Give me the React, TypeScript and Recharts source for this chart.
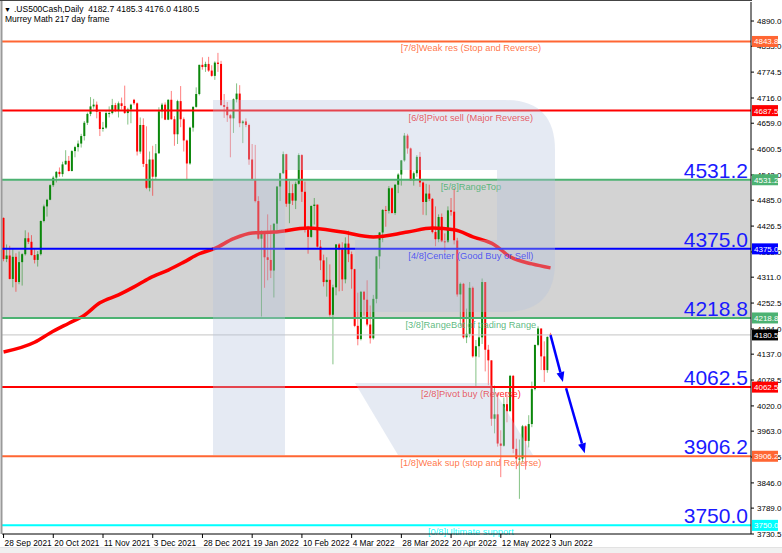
import React from 'react';
import { ComposedChart, Bar, Line, XAxis, YAxis, ReferenceLine, ReferenceArea } from 'recharts';

// date labels, one every 16 bars
const dateLabels = ['28 Sep 2021', '20 Oct 2021', '11 Nov 2021', '3 Dec 2021', '28 Dec 2021', '19 Jan 2022', '10 Feb 2022', '4 Mar 2022', '28 Mar 2022', '20 Apr 2022', '12 May 2022', '3 Jun 2022'];
const labelEvery = 16;
const totalSlots = 241; // bars plus the empty shift on the right

const opens = [4445, 4352, 4360, 4307, 4357, 4300, 4345, 4363, 4399, 4391, 4361, 4350, 4363, 4438, 4471, 4486, 4519, 4536, 4549, 4544, 4566, 4574, 4551, 4596, 4605, 4613, 4630, 4660, 4680, 4697, 4701, 4685, 4646, 4649, 4682, 4682, 4700, 4688, 4704, 4698, 4682, 4690, 4712, 4704, 4595, 4655, 4567, 4513, 4577, 4538, 4591, 4686, 4701, 4667, 4712, 4668, 4634, 4709, 4668, 4620, 4568, 4649, 4696, 4725, 4791, 4786, 4793, 4778, 4766, 4796, 4793, 4700, 4696, 4677, 4670, 4713, 4726, 4659, 4663, 4655, 4577, 4532, 4483, 4398, 4410, 4356, 4350, 4326, 4432, 4516, 4546, 4589, 4477, 4501, 4484, 4522, 4587, 4504, 4419, 4402, 4472, 4475, 4380, 4349, 4300, 4305, 4226, 4288, 4385, 4374, 4306, 4387, 4363, 4329, 4201, 4171, 4278, 4260, 4204, 4173, 4262, 4358, 4412, 4463, 4461, 4512, 4456, 4520, 4543, 4575, 4631, 4602, 4530, 4546, 4583, 4525, 4481, 4500, 4488, 4413, 4397, 4447, 4392, 4391, 4462, 4459, 4394, 4272, 4296, 4175, 4183, 4287, 4132, 4155, 4175, 4300, 4147, 4123, 3991, 4001, 3935, 3930, 4024, 4008, 4088, 3923, 3901, 3901, 3974, 3941, 3979, 4058, 4158, 4195, 4132, 4101, 4182.7];
const highs = [4446, 4385, 4382, 4375, 4365, 4369, 4365, 4417, 4412, 4406, 4375, 4370, 4439, 4475, 4488, 4521, 4540, 4551, 4559, 4572, 4598, 4585, 4598, 4608, 4620, 4635, 4664, 4683, 4718, 4714, 4708, 4685, 4662, 4688, 4697, 4714, 4705, 4708, 4717, 4744, 4694, 4703, 4714, 4706, 4672, 4670, 4652, 4595, 4608, 4612, 4695, 4705, 4706, 4713, 4732, 4675, 4712, 4743, 4672, 4622, 4651, 4697, 4740, 4791, 4808, 4798, 4809, 4790, 4799, 4818, 4800, 4725, 4707, 4680, 4715, 4749, 4745, 4666, 4670, 4658, 4612, 4610, 4494, 4417, 4411, 4453, 4429, 4432, 4516, 4547, 4595, 4590, 4528, 4521, 4527, 4591, 4589, 4527, 4427, 4473, 4490, 4475, 4395, 4362, 4356, 4340, 4294, 4386, 4388, 4390, 4401, 4416, 4369, 4330, 4276, 4280, 4280, 4304, 4247, 4271, 4358, 4413, 4465, 4472, 4517, 4514, 4521, 4546, 4576, 4637, 4635, 4604, 4550, 4587, 4594, 4527, 4522, 4520, 4490, 4471, 4453, 4455, 4410, 4471, 4490, 4512, 4400, 4299, 4298, 4240, 4300, 4290, 4169, 4200, 4308, 4300, 4158, 4123, 4066, 4050, 3965, 4039, 4046, 4090, 4090, 3946, 3944, 3977, 3976, 3999, 4075, 4158, 4200, 4195, 4166, 4177, 4185.3];
const lows = [4347, 4345, 4306, 4288, 4278, 4295, 4292, 4360, 4386, 4360, 4342, 4335, 4360, 4435, 4448, 4485, 4515, 4525, 4538, 4538, 4565, 4550, 4550, 4582, 4595, 4604, 4620, 4655, 4675, 4692, 4670, 4630, 4640, 4646, 4672, 4679, 4684, 4672, 4690, 4680, 4656, 4659, 4700, 4586, 4590, 4560, 4510, 4505, 4495, 4532, 4590, 4670, 4666, 4666, 4667, 4608, 4612, 4650, 4595, 4531, 4565, 4640, 4694, 4722, 4780, 4775, 4775, 4764, 4757, 4775, 4698, 4671, 4662, 4582, 4637, 4706, 4650, 4614, 4650, 4565, 4530, 4480, 4396, 4222, 4287, 4304, 4309, 4265, 4414, 4483, 4544, 4470, 4433, 4474, 4465, 4520, 4481, 4412, 4364, 4400, 4430, 4378, 4327, 4290, 4267, 4222, 4114, 4270, 4279, 4280, 4297, 4345, 4285, 4198, 4157, 4168, 4224, 4200, 4161, 4170, 4252, 4330, 4390, 4425, 4455, 4455, 4452, 4501, 4518, 4572, 4590, 4530, 4518, 4538, 4515, 4452, 4451, 4483, 4410, 4381, 4390, 4390, 4367, 4388, 4450, 4385, 4267, 4200, 4172, 4162, 4175, 4129, 4062, 4130, 4160, 4098, 4067, 3975, 3958, 3928, 3859, 3928, 3983, 4008, 3913, 3877, 3810, 3892, 3876, 3926, 3972, 4055, 4155, 4101, 4074, 4095, 4176];
const closes = [4352, 4360, 4307, 4357, 4300, 4345, 4363, 4399, 4391, 4361, 4350, 4363, 4438, 4471, 4486, 4519, 4536, 4549, 4544, 4566, 4574, 4551, 4596, 4605, 4613, 4630, 4660, 4680, 4697, 4701, 4685, 4646, 4649, 4682, 4682, 4700, 4688, 4704, 4698, 4682, 4690, 4701, 4704, 4595, 4655, 4567, 4513, 4577, 4538, 4591, 4686, 4701, 4667, 4712, 4668, 4634, 4709, 4668, 4620, 4568, 4649, 4696, 4725, 4791, 4786, 4793, 4778, 4766, 4796, 4793, 4700, 4696, 4677, 4670, 4713, 4726, 4659, 4663, 4655, 4577, 4532, 4483, 4398, 4410, 4356, 4350, 4326, 4432, 4516, 4546, 4589, 4477, 4501, 4484, 4522, 4587, 4504, 4419, 4402, 4472, 4475, 4380, 4349, 4300, 4305, 4226, 4288, 4385, 4374, 4306, 4387, 4363, 4329, 4201, 4171, 4278, 4260, 4204, 4173, 4262, 4358, 4412, 4463, 4461, 4512, 4456, 4520, 4543, 4575, 4631, 4602, 4530, 4546, 4583, 4525, 4481, 4500, 4488, 4413, 4397, 4447, 4392, 4391, 4462, 4459, 4394, 4272, 4296, 4175, 4183, 4287, 4132, 4155, 4175, 4300, 4147, 4123, 3991, 4001, 3935, 3930, 4024, 4008, 4088, 3923, 3901, 3901, 3974, 3941, 3979, 4058, 4158, 4195, 4132, 4101, 4176, 4180.5];

// thick red average line, read at these bars
const maBars = [0, 10, 15, 21, 26, 31, 37, 42, 47, 53, 58, 63, 68, 74, 80, 87, 98, 109, 119, 130, 138, 145, 151, 158, 163, 170, 176];
const maValues = [4142, 4164, 4185, 4207, 4225, 4253, 4271, 4289, 4309, 4327, 4345, 4364, 4376, 4398, 4411, 4413, 4422, 4413, 4402, 4413, 4422, 4418, 4402, 4384, 4357, 4341, 4332];

const priceTicks = [4890, 4833, 4774.5, 4716, 4659, 4600.5, 4542, 4485, 4426.5, 4368, 4311, 4252.5, 4194, 4137, 4078.5, 4020, 3963, 3904.5, 3846, 3789, 3730.5];

const levelValues = [4843.8, 4687.5, 4531.2, 4375.0, 4218.8, 4062.5, 3906.2, 3750.0];
const levelNames = ['[7/8]Weak res (Stop and Reverse)', '[6/8]Pivot sell (Major Reverse)', '[5/8]RangeTop', '[4/8]Center (Good Buy or Sell)', '[3/8]RangeBot of trading Range', '[2/8]Pivot buy (Reverse)', '[1/8]Weak sup (stop and Reverse)', '[0/8]Ultimate support'];
const levelColors = ['#ff6633', '#ff0000', '#4cb272', '#0000ff', '#4cb272', '#ff0000', '#ff6633', '#00ffff'];
const levelBig = [false, false, true, true, true, true, true, true];

const lastPrice = 4180.5;
const header = '.US500Cash,Daily  4182.7 4185.3 4176.0 4180.5';
const subHeader = 'Murrey Math 217 day frame';

// forecast arrows: [bar, price] -> [bar, price]
const arrowStartBar = [176, 181];
const arrowStartPrice = [4180, 4060];
const arrowEndBar = [180, 187];
const arrowEndPrice = [4074, 3913];

const FONT = '"Liberation Sans", Arial, sans-serif';
const Y_DOMAIN: [number, number] = [3730.5, 4933];

const data = Array.from({ length: totalSlots }, (_, i) => {
  const k = maBars.indexOf(i);
  return {
    i,
    o: opens[i],
    h: highs[i],
    l: lows[i],
    c: closes[i],
    ma: k >= 0 ? maValues[k] : null,
  };
});

const Candle = (props: any) => {
  const { x, y, width, height, payload } = props;
  if (!payload || payload.h == null || y == null) return null;
  const top = Math.min(y, y + height);
  const bot = Math.max(y, y + height);
  const span = payload.h - payload.l || 1;
  const k = (bot - top) / span;
  const yO = top + (payload.h - payload.o) * k;
  const yC = top + (payload.h - payload.c) * k;
  const up = payload.c >= payload.o;
  const col = up ? '#0b870b' : '#ff0000';
  const cx = x + width / 2;
  return (
    <g>
      <line x1={cx} x2={cx} y1={top} y2={bot} stroke={col} strokeOpacity={0.5} strokeWidth={1} />
      <rect x={cx - 1} y={Math.min(yO, yC)} width={2} height={Math.max(Math.abs(yC - yO), 1)} fill={col} />
    </g>
  );
};

const XTick = (props: any) => {
  const { x, y, payload } = props;
  const n = payload.value / labelEvery;
  if (!Number.isInteger(n) || !dateLabels[n]) return null;
  return (
    <g>
      <line x1={x} x2={x} y1={y} y2={y + 4} stroke="#000" />
      <text x={x + 1} y={y + 12} fontSize={8.3} fontFamily={FONT} fill="#000">{dateLabels[n]}</text>
    </g>
  );
};

const YTick = (props: any) => {
  const { x, y, payload } = props;
  return (
    <g>
      <line x1={x} x2={x + 3} y1={y} y2={y} stroke="#000" />
      <text x={x + 6} y={y + 3} fontSize={8} fontFamily={FONT} fill="#000">{payload.value.toFixed(1)}</text>
    </g>
  );
};

// texts on the plot: level name under the line, big value above it
const levelText = (k: number) => (props: any) => {
  const vb = props.viewBox || {};
  const ly = vb.y;
  const right = vb.x + vb.width;
  const col = levelColors[k];
  return (
    <g>
      <text x={vb.x + vb.width * 0.626} y={ly + 10} textAnchor="middle" fontSize={9.3} fontFamily={FONT} fill={col} fillOpacity={0.9}>
        {levelNames[k]}
      </text>
      {levelBig[k] && (
        <text x={right - 3} y={ly - 2} textAnchor="end" fontSize={21} fontFamily={FONT} fill="#1a1aff">
          {levelValues[k].toFixed(1)}
        </text>
      )}
    </g>
  );
};

// coloured price boxes on the right scale
const priceBox = (value: number, col: string) => (props: any) => {
  const vb = props.viewBox || {};
  const right = vb.x + vb.width;
  return (
    <g>
      <rect x={right + 1} y={vb.y - 5.5} width={26} height={11} fill={col} />
      <text x={right + 3} y={vb.y + 3} fontSize={8} fontFamily={FONT} fill="#fff">{value.toFixed(1)}</text>
    </g>
  );
};

const Arrow = (p: any) => {
  const { x1, y1, x2, y2 } = p;
  if (x1 == null) return null;
  const a = Math.atan2(y2 - y1, x2 - x1);
  const hl = 10;
  const hw = 4;
  const bx = x2 - hl * Math.cos(a);
  const by = y2 - hl * Math.sin(a);
  const pts = [
    `${x2},${y2}`,
    `${bx + hw * Math.sin(a)},${by - hw * Math.cos(a)}`,
    `${bx - hw * Math.sin(a)},${by + hw * Math.cos(a)}`,
  ].join(' ');
  return (
    <g>
      <line x1={x1} y1={y1} x2={bx} y2={by} stroke="#0000ff" strokeWidth={2.5} />
      <polygon points={pts} fill="#0000ff" />
    </g>
  );
};

export default function App() {
  return (
    <div style={{ position: 'absolute', left: 0, top: 0, width: 782, height: 553, background: '#fff' }}>
      <ComposedChart width={782} height={553} data={data} margin={{ top: 2, right: 0, bottom: 0, left: 2 }}>
        <ReferenceArea y1={4218.8} y2={4531.2} fill="#d3d3d3" fillOpacity={1} stroke="none" />
        <XAxis
          dataKey="i"
          type="category"
          ticks={dateLabels.map((_, n) => n * labelEvery)}
          interval={0}
          tick={<XTick />}
          tickLine={false}
          tickSize={0}
          tickMargin={0}
          height={19}
          axisLine={{ stroke: '#000' }}
        />
        <YAxis
          orientation="right"
          domain={Y_DOMAIN}
          allowDataOverflow
          ticks={priceTicks}
          interval={0}
          tick={<YTick />}
          tickLine={false}
          tickSize={0}
          tickMargin={0}
          width={31}
          axisLine={{ stroke: '#000' }}
        />
        <ReferenceLine y={lastPrice} stroke="#c4c4c4" strokeWidth={1} />
        <Bar dataKey={(d: any) => (d.h == null ? null : [d.l, d.h])} barSize={3} shape={<Candle />} isAnimationActive={false} />
        <Line dataKey="ma" type="monotone" stroke="#ff0000" strokeWidth={3.5} dot={false} connectNulls isAnimationActive={false} />
        {levelValues.map((v, k) => (
          <ReferenceLine key={k} y={v} stroke={levelColors[k]} strokeWidth={2} label={levelText(k)} />
        ))}
        {arrowStartBar.map((b, k) => (
          <ReferenceLine
            key={'a' + k}
            segment={[{ x: b, y: arrowStartPrice[k] }, { x: arrowEndBar[k], y: arrowEndPrice[k] }]}
            shape={Arrow}
          />
        ))}
      </ComposedChart>
      <svg width={782} height={553} style={{ position: 'absolute', left: 0, top: 0, pointerEvents: 'none' }}>
        <g fill="#b4c4dc" fillOpacity={0.35}>
          <path d="M213 100 H505 Q555 100 555 150 V262 Q555 312 505 312 H355 V240 H497 V170 H285 V455 H213 Z" />
          <path d="M355 383 H490 L533 455 H398 Z" />
        </g>
        <line x1={1.5} x2={1.5} y1={0} y2={534} stroke="#9a9a9a" strokeWidth={2} />
        <line x1={0} x2={752} y1={0.5} y2={0.5} stroke="#444" strokeWidth={1} />
        <text x={4} y={12} fontSize={7} fontFamily={FONT} fill="#000">▼</text>
        <text x={14} y={12} fontSize={8.5} fontFamily={FONT} fill="#000" style={{ whiteSpace: 'pre' }}>{header}</text>
        <text x={5} y={22} fontSize={8.5} fontFamily={FONT} fill="#000">{subHeader}</text>
      </svg>
      {/* second layer with the same scales, so the price boxes sit above the axis labels */}
      <div style={{ position: 'absolute', left: 0, top: 0, pointerEvents: 'none' }}>
        <ComposedChart width={782} height={553} data={data} margin={{ top: 2, right: 31, bottom: 19, left: 2 }}>
          <XAxis dataKey="i" type="category" hide />
          <YAxis domain={Y_DOMAIN} allowDataOverflow hide />
          <ReferenceLine y={lastPrice} stroke="none" label={priceBox(lastPrice, '#000')} />
          {levelValues.map((v, k) => (
            <ReferenceLine key={k} y={v} stroke="none" label={priceBox(v, levelColors[k])} />
          ))}
        </ComposedChart>
      </div>
      <div style={{ position: 'absolute', left: 0, top: 547, width: 782, height: 6, background: '#f0f0f0', borderTop: '1px solid #e2e2e2' }} />
    </div>
  );
}
